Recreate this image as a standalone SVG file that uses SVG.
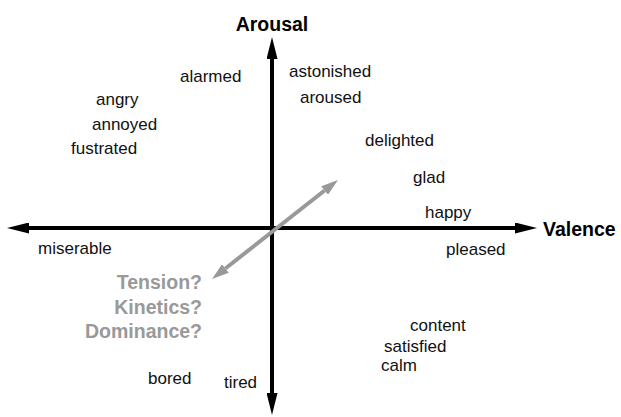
<svg xmlns="http://www.w3.org/2000/svg" width="621" height="417" viewBox="0 0 621 417">
<style>
.w{font-family:"Liberation Sans",Arial,sans-serif;font-size:17px;fill:#111}
.ax{font-family:"Liberation Sans",Arial,sans-serif;font-size:19.5px;font-weight:bold;fill:#000}
.q{font-family:"Liberation Sans",Arial,sans-serif;font-size:19.5px;font-weight:bold;fill:#999;text-anchor:end}
.bl{stroke:#000;stroke-width:4;fill:none}
.gl{stroke:#999;stroke-width:4;fill:none}
</style>
<defs>
<marker id="ab" markerUnits="userSpaceOnUse" markerWidth="22" markerHeight="11" refX="0" refY="5.5" orient="auto-start-reverse" viewBox="0 0 22 11"><path d="M0,0 L22,5.5 L0,11 z" fill="#000"/></marker>
<marker id="ag" markerUnits="userSpaceOnUse" markerWidth="17" markerHeight="11" refX="0" refY="5.5" orient="auto-start-reverse" viewBox="0 0 17 11"><path d="M0,0 L17,5.5 L0,11 z" fill="#999"/></marker>
</defs>
<g id="connectors">
<line class="bl" x1="272" y1="393" x2="272" y2="59" marker-start="url(#ab)" marker-end="url(#ab)"/>
<line class="bl" x1="29" y1="228" x2="515" y2="228" marker-start="url(#ab)" marker-end="url(#ab)"/>
<line class="gl" x1="225.4" y1="268.5" x2="324.6" y2="190.5" marker-start="url(#ag)" marker-end="url(#ag)"/>
</g>
<g id="axis-arousal"><text class="ax" x="272" y="31" text-anchor="middle">Arousal</text></g>
<g id="axis-valence"><text class="ax" x="543" y="236">Valence</text></g>
<g id="dims">
<text class="q" x="202" y="289">Tension?</text>
<text class="q" x="202" y="314">Kinetics?</text>
<text class="q" x="202" y="338">Dominance?</text>
</g>
<g id="w-alarmed"><text class="w" x="180" y="82">alarmed</text></g>
<g id="w-angry"><text class="w" x="96" y="105">angry</text></g>
<g id="w-annoyed"><text class="w" x="92" y="130">annoyed</text></g>
<g id="w-fustrated"><text class="w" x="71" y="154">fustrated</text></g>
<g id="w-astonished"><text class="w" x="289" y="77">astonished</text></g>
<g id="w-aroused"><text class="w" x="300" y="103">aroused</text></g>
<g id="w-delighted"><text class="w" x="365" y="146">delighted</text></g>
<g id="w-glad"><text class="w" x="413" y="183">glad</text></g>
<g id="w-happy"><text class="w" x="425" y="218">happy</text></g>
<g id="w-pleased"><text class="w" x="446" y="255">pleased</text></g>
<g id="w-miserable"><text class="w" x="38" y="254">miserable</text></g>
<g id="w-content"><text class="w" x="410" y="331">content</text></g>
<g id="w-satisfied"><text class="w" x="384" y="352">satisfied</text></g>
<g id="w-calm"><text class="w" x="381" y="371">calm</text></g>
<g id="w-bored"><text class="w" x="148" y="384">bored</text></g>
<g id="w-tired"><text class="w" x="224" y="388">tired</text></g>
</svg>
